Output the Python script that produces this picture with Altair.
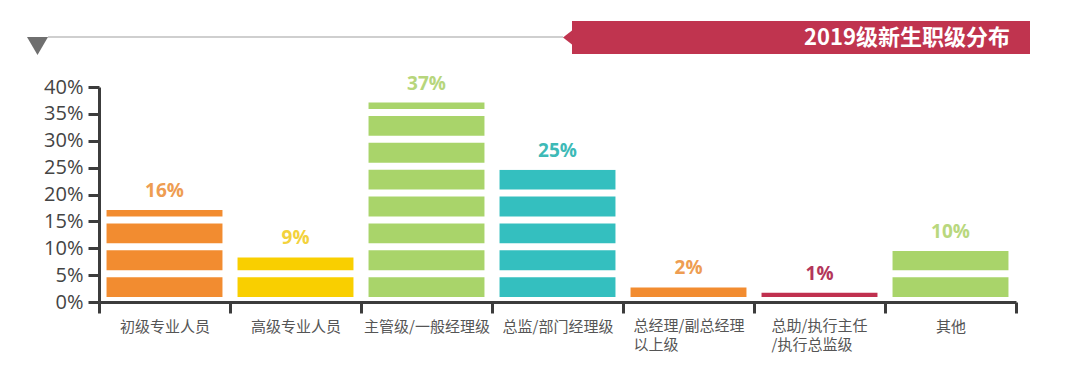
import altair as alt
import pandas as pd

# ---- data ----
categories = ["初级专业人员", "高级专业人员", "主管级/一般经理级", "总监/部门经理级",
              "总经理/副总经理\n以上级", "总助/执行主任\n/执行总监级", "其他"]
bar_heights = [17.1, 8.3, 37.1, 24.6, 2.7, 1.7, 9.5]   # drawn bar heights (%)
label_values = [16, 9, 37, 25, 2, 1, 10]               # printed labels (%)
bar_colors = ["#f28c30", "#f9cf00", "#a9d46a", "#34bfbf", "#f28c30", "#c0304f", "#a9d46a"]
label_colors = ["#ee9d52", "#f3d23c", "#b7d67c", "#3dbab7", "#ee9d52", "#b3365b", "#b9d87e"]
separator_levels = [0, 5, 10, 15, 20, 25, 30, 35]
y_ticks = [0, 5, 10, 15, 20, 25, 30, 35, 40]
title_text = "2019级新生职级分布"

df = pd.DataFrame({
    "cat": categories,
    "h": bar_heights,
    "label": [f"{v}%" for v in label_values],
    "bc": bar_colors,
    "lc": label_colors,
})
sep_df = pd.DataFrame({"lvl": separator_levels})

W, H = 917, 215
AXIS_COLOR = "#3c3c3c"
CJK = "Noto Sans CJK SC"

xscale = alt.Scale(paddingInner=0, paddingOuter=0)
yscale = alt.Scale(domain=[0, 40])

x_axis = alt.Axis(
    title=None,
    labelExpr="indexof(datum.label, '\\n') >= 0 ? '' : datum.label",
    labelAngle=0,
    labelFont=CJK,
    labelFontSize=15,
    labelColor="#555555",
    labelPadding=6,
    tickBand="extent",
    tickSize=11,
    tickWidth=3,
    tickColor=AXIS_COLOR,
    domainColor=AXIS_COLOR,
    domainWidth=3,
    grid=False,
    zindex=1,
)
y_axis = alt.Axis(
    title=None,
    values=y_ticks,
    labelExpr="datum.value + '%'",
    labelFont="Open Sans",
    labelFontSize=20,
    labelColor="#444444",
    labelPadding=5,
    tickSize=11,
    tickWidth=3,
    tickColor=AXIS_COLOR,
    domainColor=AXIS_COLOR,
    domainWidth=3,
    grid=False,
    zindex=1,
)

X = alt.X("cat:N", sort=None, scale=xscale, axis=x_axis)
bars = alt.Chart(df).mark_bar(width=alt.RelativeBandSize(0.885)).encode(
    x=X,
    y=alt.Y("h:Q", scale=yscale, axis=y_axis),
    color=alt.Color("bc:N", scale=None),
)

separators = alt.Chart(sep_df).mark_rule(color="white", strokeWidth=7, yOffset=-1.5).encode(
    y=alt.Y("lvl:Q", scale=yscale, axis=y_axis),
)

labels = alt.Chart(df).mark_text(
    dy=-19, baseline="middle", font="Open Sans", fontSize=19, fontWeight="bold"
).encode(
    x=X,
    y=alt.Y("h:Q", scale=yscale, axis=y_axis),
    text="label:N",
    color=alt.Color("lc:N", scale=None),
)

def two_line_label(cat, dx):
    return alt.Chart(df).transform_filter(alt.datum.cat == cat).mark_text(
        align="left", baseline="top", lineBreak="\n", lineHeight=19, dx=dx, dy=17,
        font=CJK, fontSize=15, color="#555555",
    ).encode(x=X, y=alt.Y(datum=0, scale=yscale, axis=y_axis), text="cat:N")

xl1 = two_line_label(categories[4], -55)
xl2 = two_line_label(categories[5], -48)

one = alt.Data(values=[{}])
header_line = alt.Chart(one).mark_rule(color="#cfcfcf", strokeWidth=2).encode(
    x=alt.value(-51), x2=alt.value(464), y=alt.value(-50))
marker = alt.Chart(one).mark_point(
    shape="M -1 -0.857 L 1 -0.857 L 0 0.857 Z", filled=True, size=441,
    color="#6f6f6f", opacity=1, strokeWidth=0).encode(x=alt.value(-61.5), y=alt.value(-41))
banner = alt.Chart(one).mark_rect(color="#c0344f").encode(
    x=alt.value(473), x2=alt.value(931), y=alt.value(-66), y2=alt.value(-33))
notch = alt.Chart(one).mark_point(
    shape="M -1 0 L 0.2 -0.95 L 0.2 0.95 Z", filled=True, size=256,
    color="#c0344f", opacity=1, strokeWidth=0).encode(x=alt.value(472), y=alt.value(-49.5))
title = alt.Chart(one).mark_text(
    align="right", baseline="middle", color="white", fontSize=22, fontWeight="bold",
    font=CJK).encode(x=alt.value(911), y=alt.value(-49.5), text=alt.value(title_text))

chart = alt.layer(bars, separators, labels, xl1, xl2,
                  header_line, marker, banner, notch, title).properties(
    width=W, height=H,
    autosize=alt.AutoSizeParams(type="none"),
    padding={"left": 91, "top": 79, "right": 50, "bottom": 52},
    background="white",
).configure_view(stroke=None)

chart.save("out.html", embed_options={"renderer": "svg", "actions": False})
